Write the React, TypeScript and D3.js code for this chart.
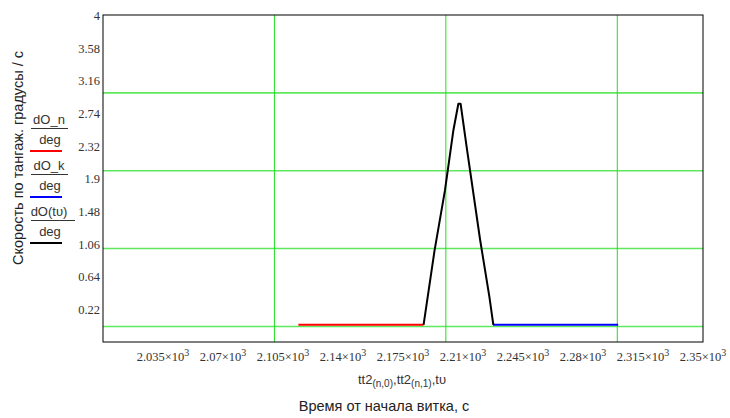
import React from 'react';
import * as d3 from 'd3';

// red: dO_n / deg
const tNak = [2114, 2187];
const vNak = [0.02, 0.02];
// blue: dO_k / deg
const tKon = [2227.5, 2300.5];
const vKon = [0.02, 0.02];
// black: dO(tv) / deg
const tPer = [2187, 2193.3, 2199.5, 2204.4, 2207.3, 2208.6, 2212.1, 2220, 2225.4, 2227.7];
const vPer = [0.02, 0.96, 1.75, 2.52, 2.86, 2.86, 2.31, 1.11, 0.38, 0.02];

const xTicks = [2035, 2070, 2105, 2140, 2175, 2210, 2245, 2280, 2315, 2350];
const yTicks = [4, 3.58, 3.16, 2.74, 2.32, 1.9, 1.48, 1.06, 0.64, 0.22];
const xGrid = [2100, 2200, 2300];
const yGrid = [0, 1, 2, 3];

const W = 730;
const H = 418;
const m = { left: 103, top: 15, right: 703, bottom: 342 };

export default function App() {
  const x = d3.scaleLinear().domain([2000, 2350]).range([m.left, m.right]);
  const y = d3.scaleLinear().domain([-0.2, 4]).range([m.bottom, m.top]);
  const line = d3.line<[number, number]>().x(d => x(d[0])).y(d => y(d[1]));
  const pts = (t: number[], v: number[]) => t.map((d, i) => [d, v[i]] as [number, number]);

  const serif = '"Liberation Serif", "Times New Roman", serif';
  const sans = 'Arial, "Liberation Sans", sans-serif';

  const legend = [
    { top: 'dO_n', color: '#ff0000', y0: 120 },
    { top: 'dO_k', color: '#0000ff', y0: 166 },
    { top: 'dO(tυ)', color: '#000000', y0: 212 },
  ];

  return (
    <div style={{ position: 'absolute', left: 0, top: 0 }}>
      <svg width={W} height={H} style={{ display: 'block', background: '#fff' }}>
        {/* grid */}
        {yGrid.map(g => (
          <line key={'hy' + g} x1={m.left} x2={m.right} y1={y(g)} y2={y(g)} stroke="#5de85d" strokeWidth={1.6} />
        ))}
        {xGrid.map(g => (
          <line key={'vx' + g} x1={x(g)} x2={x(g)} y1={m.top} y2={m.bottom} stroke="#22dd22" strokeWidth={1} />
        ))}
        {/* frame */}
        <rect x={m.left} y={m.top} width={m.right - m.left} height={m.bottom - m.top} fill="none" stroke="#000" strokeWidth={1} />

        {/* traces */}
        <path d={line(pts(tNak, vNak)) || ''} fill="none" stroke="#ff0000" strokeWidth={2} />
        <path d={line(pts(tKon, vKon)) || ''} fill="none" stroke="#0000ff" strokeWidth={2} />
        <path d={line(pts(tPer, vPer)) || ''} fill="none" stroke="#000" strokeWidth={2} strokeLinejoin="round" />

        {/* y tick labels */}
        {yTicks.map(t => (
          <text key={'yt' + t} x={m.left - 3} y={y(t) + 2} textAnchor="end" dominantBaseline="middle"
            fontFamily={serif} fontSize={12.5} fill="#333">{String(t)}</text>
        ))}
        {/* x tick labels */}
        {xTicks.map(t => (
          <text key={'xt' + t} x={x(t)} y={361} textAnchor="middle" fontFamily={serif} fontSize={12.5} fill="#333">
            {String(t / 1000)}×10<tspan fontSize={10} dy={-5}>3</tspan>
          </text>
        ))}

        {/* x expression */}
        <text x={402} y={384} textAnchor="middle" fontFamily={sans} fontSize={13} fill="#333">
          tt2<tspan fontSize={10} dy={3}>(n,0)</tspan><tspan dy={-3}>,tt2</tspan>
          <tspan fontSize={10} dy={3}>(n,1)</tspan><tspan dy={-3}>,tυ</tspan>
        </text>
        <text x={384} y={411} textAnchor="middle" fontFamily={sans} fontSize={14.5} fill="#222">Время от начала витка, с</text>

        {/* y title */}
        <text transform="translate(23,158) rotate(-90)" textAnchor="middle" fontFamily={sans} fontSize={14.5} fill="#222">
          Скорость по тангаж. градусы / с
        </text>

        {/* legend */}
        {legend.map(l => (
          <g key={l.top}>
            <text x={49} y={l.y0 + 4} textAnchor="middle" fontFamily={sans} fontSize={13} fill="#333">{l.top}</text>
            <line x1={31} x2={l.top.length > 4 ? 75 : 68} y1={l.y0 + 8.5} y2={l.y0 + 8.5} stroke="#333" strokeWidth={1} />
            <text x={50} y={l.y0 + 24} textAnchor="middle" fontFamily={sans} fontSize={13} fill="#333">deg</text>
            <line x1={30} x2={62} y1={l.y0 + 31} y2={l.y0 + 31} stroke={l.color} strokeWidth={2} />
          </g>
        ))}
      </svg>
    </div>
  );
}
